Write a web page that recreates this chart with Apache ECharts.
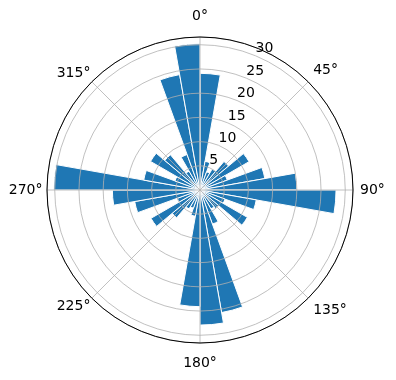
<!DOCTYPE html>
<html><head><meta charset="utf-8">
<script src="https://cdn.jsdelivr.net/npm/echarts@6/dist/echarts.min.js"></script>
<style>html,body{margin:0;padding:0;background:#fff}#c{width:396px;height:380px}</style>
</head><body><div id="c"></div>
<script>
// bin centres (degrees, clockwise from north)
const directions = [5,15,25,35,45,55,65,75,85,95,105,115,125,135,145,155,165,175,
                    185,195,205,215,225,235,245,255,265,275,285,295,305,315,325,335,345,355];
const counts = [24.1, 6.0, 4.0, 5.0, 7.7, 11.7, 6.0, 13.6, 20.0, 28.1, 11.8, 5.5,
                11.3, 5.0, 4.5, 7.5, 25.7, 27.9, 24.1, 5.5, 4.0, 4.5, 7.5, 11.7,
                5.0, 13.7, 18.1, 30.2, 11.8, 5.5, 11.8, 9.5, 4.5, 7.8, 24.2, 30.2];
const angleTicks = [0,45,90,135,180,225,270,315];
const radiusTicks = [5,10,15,20,25,30];
const rMax = 31.6;

const CENTER = [200, 190];
const RADIUS = 153;
const FONT = 'DejaVu Sans';

// angle tick labels split in groups so that each group gets its own label distance
const labelGroups = [
  {ticks: [0, 180], margin: 13.5},
  {ticks: [45, 90, 135], margin: 7},
  {ticks: [270], margin: 4.5},
  {ticks: [225, 315], margin: 2}
];

const hiddenAxis = {axisLine: {show: false}, axisTick: {show: false}, axisLabel: {show: false}, splitLine: {show: false}};

const polars = [
  {center: CENTER, radius: RADIUS},
  {center: CENTER, radius: RADIUS},
  {center: CENTER, radius: RADIUS}
];
const angleAxes = [
  Object.assign({polarIndex: 0, type: 'category', data: directions.map(String), startAngle: 90, clockwise: true}, hiddenAxis),
  { polarIndex: 1, type: 'value', min: 0, max: 360, interval: 45, startAngle: 90, clockwise: true, z: 5,
    axisLine: {show: true, lineStyle: {color: '#000', width: 1}},
    axisTick: {show: false}, axisLabel: {show: false},
    splitLine: {show: true, lineStyle: {color: '#b0b0b0', width: 0.8}} },
  Object.assign({polarIndex: 2, type: 'value', min: 0, max: 360, startAngle: 67.5, clockwise: true}, hiddenAxis)
];
const radiusAxes = [
  Object.assign({polarIndex: 0, type: 'value', min: 0, max: rMax}, hiddenAxis),
  { polarIndex: 1, type: 'value', min: 0, max: rMax, interval: 5, z: 5,
    axisLine: {show: false}, axisTick: {show: false}, axisLabel: {show: false},
    splitLine: {show: true, lineStyle: {color: '#b0b0b0', width: 0.8}} },
  { polarIndex: 2, type: 'value', min: 0, max: rMax, interval: 5, z: 6,
    axisLine: {show: false}, axisTick: {show: false}, splitLine: {show: false},
    axisLabel: {show: true, margin: 0, align: 'left', verticalAlign: 'bottom',
      fontFamily: FONT, fontSize: 14, color: '#000',
      formatter: v => radiusTicks.includes(v) ? String(v) : ''} }
];
labelGroups.forEach((g, i) => {
  const idx = 3 + i;
  polars.push({center: CENTER, radius: RADIUS});
  angleAxes.push({ polarIndex: idx, type: 'value', min: 0, max: 360, interval: 45, startAngle: 90, clockwise: true, z: 6,
    axisLine: {show: false}, axisTick: {show: false}, splitLine: {show: false},
    axisLabel: {show: true, margin: g.margin, fontFamily: FONT, fontSize: 14, color: '#000',
      formatter: v => (g.ticks.includes(v) && angleTicks.includes(v)) ? v + '°' : ''} });
  radiusAxes.push(Object.assign({polarIndex: idx, type: 'value', min: 0, max: rMax}, hiddenAxis));
});

const chart = echarts.init(document.getElementById('c'), null, {renderer: 'canvas'});
chart.setOption({
  animation: false,
  backgroundColor: '#fff',
  polar: polars,
  angleAxis: angleAxes,
  radiusAxis: radiusAxes,
  series: [{
    type: 'bar', coordinateSystem: 'polar', polarIndex: 0,
    data: counts, barCategoryGap: '0%',
    itemStyle: {color: '#1f77b4', borderColor: '#ffffff', borderWidth: 1}
  }]
});
</script>
</body></html>
